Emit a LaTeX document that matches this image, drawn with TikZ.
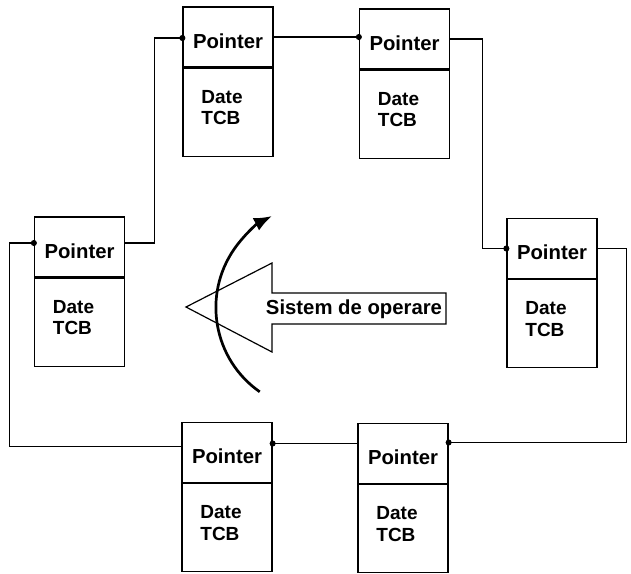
\documentclass[tikz,border=0pt]{standalone}
\usepackage{fontspec}
\setmainfont{Liberation Sans}
\usetikzlibrary{arrows.meta,calc}
\begin{document}
\begin{tikzpicture}[x=1pt,y=-1pt,
  txt/.style={font=\fontsize{19}{21.5}\selectfont\bfseries},
  bigtxt/.style={font=\fontsize{20.3}{22}\selectfont\bfseries},
  ptr/.style={draw,line width=1.3pt,minimum width=90pt,minimum height=60pt,inner sep=0pt,bigtxt,text height=22pt,text depth=0pt},
  dat/.style={draw,line width=1.3pt,minimum width=90pt,minimum height=88pt,inner sep=0pt},
  lbl/.style={txt,align=left,inner sep=0pt},
  link/.style={line width=1.1pt,-{Circle[length=6pt]},shorten >=-3pt},
  bigarrow/.style={line width=1.2pt},
  turn/.style={line width=2.7pt,-{Latex[length=18pt,width=14pt]}}]
\useasboundingbox (0,0) rectangle (631,573);
% boxes
\node[ptr] (p1) at (228,37) {Pointer};
\node[dat,anchor=north] (d1) at (p1.south) {};
\node[lbl] (t1) at ($(d1.north)+(-6,40)$) {Date\\TCB};
\node[ptr] (p2) at (404.5,39) {Pointer};
\node[dat,anchor=north] (d2) at (p2.south) {};
\node[lbl] (t2) at ($(d2.north)+(-6,40)$) {Date\\TCB};
\node[ptr] (pL) at (79.5,247) {Pointer};
\node[dat,anchor=north] (dL) at (pL.south) {};
\node[lbl] (tL) at ($(dL.north)+(-6,40)$) {Date\\TCB};
\node[ptr] (pR) at (552,248.5) {Pointer};
\node[dat,anchor=north] (dR) at (pR.south) {};
\node[lbl] (tR) at ($(dR.north)+(-6,40)$) {Date\\TCB};
\node[ptr] (pBL) at (227,452.5) {Pointer};
\node[dat,anchor=north] (dBL) at (pBL.south) {};
\node[lbl] (tBL) at ($(dBL.north)+(-6,40)$) {Date\\TCB};
\node[ptr] (pBR) at (403,453.5) {Pointer};
\node[dat,anchor=north] (dBR) at (pBR.south) {};
\node[lbl] (tBR) at ($(dBR.north)+(-6,40)$) {Date\\TCB};
% ring of pointers
\draw[link] (p1.east) -- (p1.east -| p2.west);
\draw[link] (p2.east) -- ++(32,0) |- (pR.west);
\draw[link] (pR.east) -- ++(29,0) |- ([yshift=11pt]pBR.east);
\draw[link] ([yshift=10pt]pBR.west) -- ([yshift=10pt]pBR.west -| pBL.east);
\draw[link] ([yshift=6pt]pBL.west) -- ++(-172,0) |- ([yshift=4pt]pL.west);
\draw[link] ([yshift=4pt]pL.east) -- ++(29,0) |- ([yshift=-1pt]p1.west);
% operating system arrow
\draw[bigarrow] (186,307) -- (272,263) -- (272,293) -- (446,293) -- (446,324)
  -- (272,324) -- (272,352) -- cycle;
\node[bigtxt,inner sep=0pt] (os) at (354,309) {Sistem de operare};
% rotation arrow
\coordinate (rc) at (318.7,307.6);
\draw[turn] ($(rc)+(235:102.8pt)$) arc[start angle=235,end angle=117,radius=102.8pt];
\end{tikzpicture}
\end{document}
